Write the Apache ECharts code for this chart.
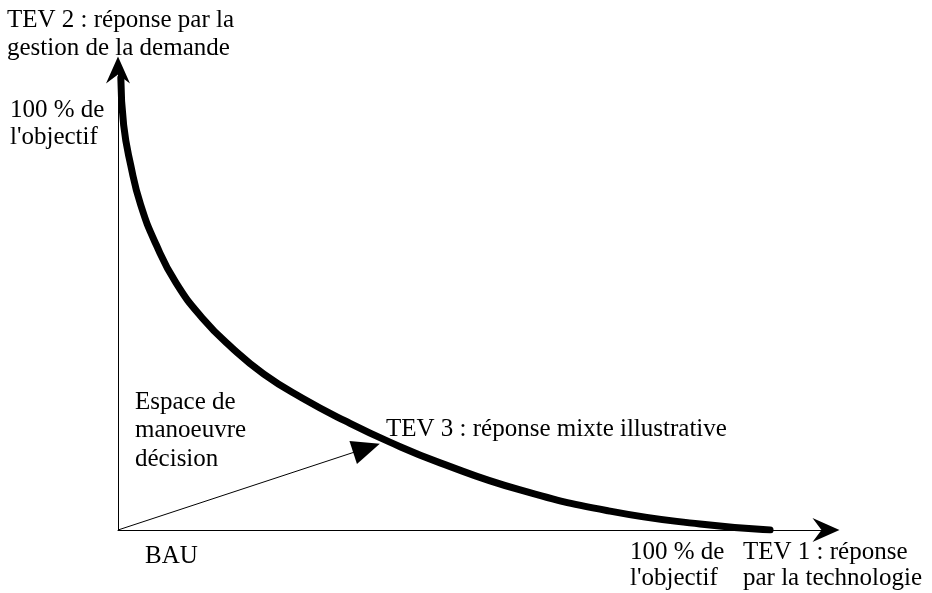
<!DOCTYPE html>
<html>
<head>
<meta charset="utf-8">
<script src="https://cdn.jsdelivr.net/npm/echarts@6/dist/echarts.min.js"></script>
<style>
html,body{margin:0;padding:0;background:#fff;}
#chart{width:932px;height:593px;}
</style>
</head>
<body>
<div id="chart"></div>
<script>
// Frontier curve (TEV 1 <-> TEV 2), in % of axis length
var curveX = [0.4, 0.8, 1.8, 3.2, 5.4, 8.2, 11.9, 16.1, 20.6, 26.0, 32.1, 38.4, 45.5, 56.8, 69.5, 82.2, 92.1];
var curveY = [98.3, 88.0, 79.3, 70.7, 62.0, 53.7, 46.1, 39.6, 33.9, 28.7, 23.7, 19.1, 14.6, 8.7, 4.1, 1.3, 0.0];
// Decision arrow from BAU towards TEV 3
var arrowFrom = [0, 0];
var arrowTo = [35.1, 17.8];
// Texts
var textFont = 'Liberation Serif';
var labels = [
  {t: 'TEV 2 : réponse par la', x: 7, y: 21},
  {t: 'gestion de la demande', x: 7, y: 49},
  {t: '100 % de', x: 10, y: 111},
  {t: "l'objectif", x: 10, y: 138},
  {t: 'Espace de', x: 135, y: 403},
  {t: 'manoeuvre', x: 135, y: 431},
  {t: 'décision', x: 135, y: 460},
  {t: 'TEV 3 : réponse mixte illustrative', x: 386, y: 430},
  {t: 'BAU', x: 145, y: 557},
  {t: '100 % de', x: 630, y: 553},
  {t: "l'objectif", x: 630, y: 579},
  {t: 'TEV 1 : réponse', x: 743, y: 553},
  {t: 'par la technologie', x: 743, y: 579}
];

var curveData = curveX.map(function (v, i) { return [v, curveY[i]]; });
var arrowPath = 'path://M12,0 L24,27 L12,18 L0,27 Z';

var chart = echarts.init(document.getElementById('chart'));
chart.setOption({
  animation: false,
  backgroundColor: '#fff',
  grid: {left: 118, right: 106, top: 70, bottom: 63},
  xAxis: {
    type: 'value', min: 0, max: 100,
    axisLine: {show: true, lineStyle: {color: '#000', width: 1}, symbol: ['none', arrowPath], symbolSize: [25, 27]},
    axisTick: {show: false}, axisLabel: {show: false}, splitLine: {show: false}
  },
  yAxis: {
    type: 'value', min: 0, max: 100,
    axisLine: {show: true, lineStyle: {color: '#000', width: 1}, symbol: ['none', arrowPath], symbolSize: [25, 27]},
    axisTick: {show: false}, axisLabel: {show: false}, splitLine: {show: false}
  },
  series: [
    {
      type: 'line',
      data: curveData,
      smooth: 0.5,
      showSymbol: false,
      symbol: 'none',
      lineStyle: {color: '#000', width: 7, cap: 'round', join: 'round'},
      silent: true,
      markLine: {
        silent: true,
        symbol: ['none', 'triangle'],
        symbolSize: [24, 28],
        label: {show: false},
        lineStyle: {color: '#000', width: 1, type: 'solid'},
        itemStyle: {color: '#000'},
        data: [[{coord: arrowFrom}, {coord: arrowTo}]]
      }
    }
  ],
  graphic: labels.map(function (l) {
    return {
      type: 'text', left: l.x, top: l.y - 13, silent: true,
      style: {text: l.t, font: '25px "' + textFont + '"', fill: '#000'}
    };
  })
});
</script>
</body>
</html>
